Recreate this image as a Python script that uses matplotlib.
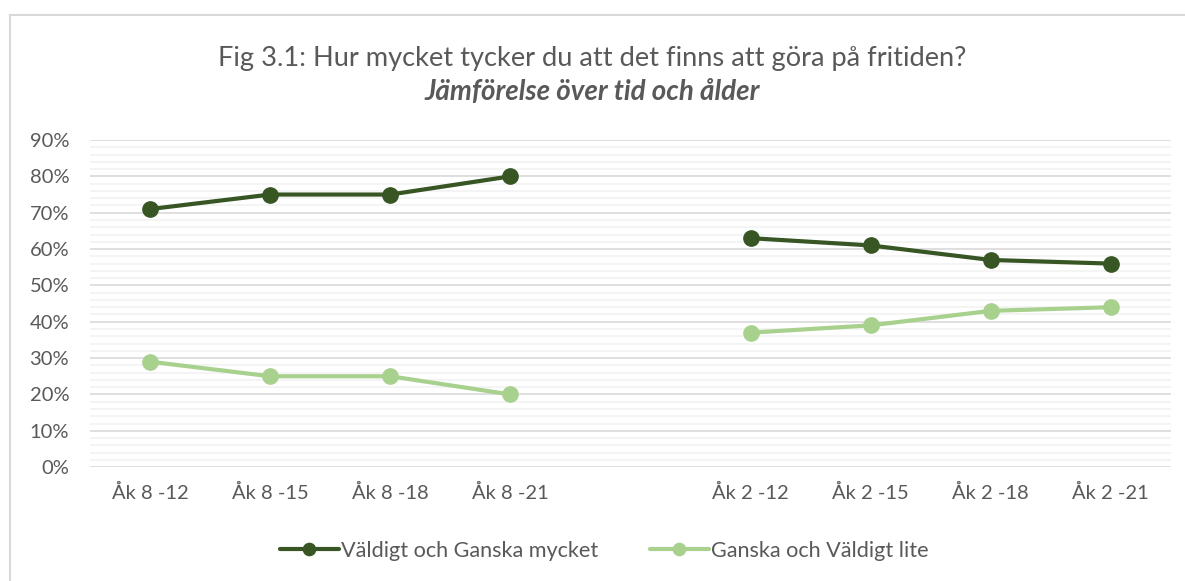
import numpy as np
import matplotlib
matplotlib.use("Agg")
import matplotlib.pyplot as plt
from matplotlib.lines import Line2D
from matplotlib.ticker import MultipleLocator, PercentFormatter

# ── data ─────────────────────────────────────────────────────────────────────
cats_ak8 = ["Åk 8 -12", "Åk 8 -15", "Åk 8 -18", "Åk 8 -21"]
cats_ak2 = ["Åk 2 -12", "Åk 2 -15", "Åk 2 -18", "Åk 2 -21"]
mycket_ak8 = [0.71, 0.75, 0.75, 0.80]
mycket_ak2 = [0.63, 0.61, 0.57, 0.56]
lite_ak8 = [0.29, 0.25, 0.25, 0.20]
lite_ak2 = [0.37, 0.39, 0.43, 0.44]

# ── styling ──────────────────────────────────────────────────────────────────
plt.rcParams["font.family"] = ["Lato", "DejaVu Sans"]
TEXT = "#595959"
DARK = "#375623"
LIGHT = "#A9D18E"

labels = cats_ak8 + [""] + cats_ak2
x = np.arange(len(labels))
nan = [np.nan]
mycket = mycket_ak8 + nan + mycket_ak2
lite = lite_ak8 + nan + lite_ak2

fig = plt.figure(figsize=(11.85, 5.81), dpi=100)
ax = fig.add_axes([0.076, 0.196, 0.912, 0.563])

ax.plot(x, mycket, color=DARK, lw=3, marker="o", ms=11, label="Väldigt och Ganska mycket",
        solid_capstyle="round", zorder=3)
ax.plot(x, lite, color=LIGHT, lw=3, marker="o", ms=11, label="Ganska och Väldigt lite",
        solid_capstyle="round", zorder=3)

ax.set_xlim(-0.5, len(labels) - 0.5)
ax.set_ylim(0, 0.9)
ax.yaxis.set_major_locator(MultipleLocator(0.1))
ax.yaxis.set_minor_locator(MultipleLocator(0.02))
ax.yaxis.set_major_formatter(PercentFormatter(1.0, decimals=0))
ax.set_xticks(x)
ax.set_xticklabels(labels)
ax.grid(axis="y", which="minor", color="#F2F2F2", lw=1.2, zorder=0)
ax.grid(axis="y", which="major", color="#D9D9D9", lw=1.2, zorder=1)
ax.set_axisbelow(True)
for s in ax.spines.values():
    s.set_visible(False)
ax.tick_params(axis="both", which="both", length=0, labelsize=14.5, colors=TEXT)
ax.tick_params(axis="x", pad=12)
ax.tick_params(axis="y", pad=15)

fig.text(0.5, 0.90, "Fig 3.1: Hur mycket tycker du att det finns att göra på fritiden?",
         ha="center", va="center", fontsize=19.6, color=TEXT)
fig.text(0.5, 0.842, "Jämförelse över tid och ålder", ha="center", va="center",
         fontsize=20, color=TEXT, style="italic", weight="bold")

leg = ax.legend(loc="center", ncol=2, frameon=False, fontsize=15.6, handlelength=2.7,
                handletextpad=0.1, columnspacing=2.4, markerscale=0.8)
leg.set_bbox_to_anchor((0.51, 0.052), transform=fig.transFigure)
for t in leg.get_texts():
    t.set_color(TEXT)

# chart frame (left and top edges only, as in the crop)
fig.add_artist(Line2D([0.0085, 0.0085], [0, 0.975], transform=fig.transFigure,
                      color="#D9D9D9", lw=1.5))
fig.add_artist(Line2D([0.0085, 1.0], [0.975, 0.975], transform=fig.transFigure,
                      color="#D9D9D9", lw=1.5))

fig.savefig("out.png", dpi=100)
